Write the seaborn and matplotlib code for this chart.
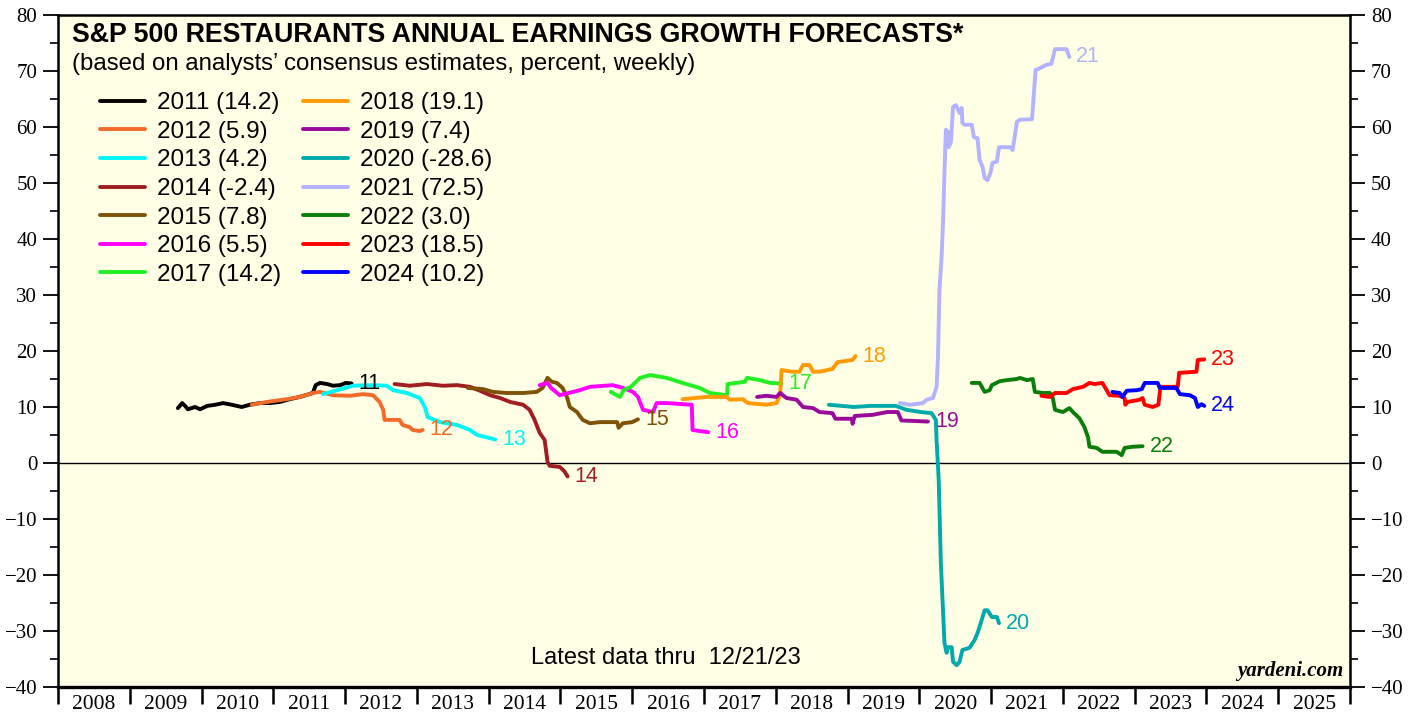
import matplotlib
matplotlib.use("Agg")
import matplotlib.pyplot as plt
from matplotlib.lines import Line2D
from matplotlib.ticker import MultipleLocator, FixedLocator, FixedFormatter
import seaborn as sns
import pandas as pd
import numpy as np

# weekly consensus forecasts, x = decimal year, y = percent
x_2011 = [2009.67, 2009.73, 2009.77, 2009.81, 2009.91, 2009.98, 2010.08, 2010.19, 2010.30, 2010.42, 2010.56, 2010.67, 2010.81,
          2010.95, 2011.09, 2011.23, 2011.37, 2011.55, 2011.59, 2011.65, 2011.75, 2011.83, 2011.93, 2012.01, 2012.09]
y_2011 = [9.8, 10.7, 10.2, 9.6, 10.0, 9.6, 10.2, 10.4, 10.7, 10.4, 10.0, 10.4, 10.7,
          10.7, 10.9, 11.4, 11.8, 12.5, 13.9, 14.3, 14.1, 13.8, 13.9, 14.3, 14.2]

x_2012 = [2010.70, 2010.91, 2011.19, 2011.37, 2011.55, 2011.65, 2011.83, 2012.07, 2012.25, 2012.39, 2012.48, 2012.53,
          2012.55, 2012.76, 2012.80, 2012.90, 2012.94, 2013.04, 2013.08]
y_2012 = [10.4, 10.9, 11.4, 11.8, 12.5, 12.7, 12.1, 12.0, 12.3, 12.1, 10.9, 9.5,
          7.7, 7.7, 6.8, 6.4, 5.9, 5.7, 5.9]

x_2013 = [2011.69, 2011.89, 2012.11, 2012.39, 2012.58, 2012.67, 2012.86, 2013.04, 2013.11, 2013.15, 2013.32, 2013.56,
          2013.74, 2013.84, 2013.97, 2014.09]
y_2013 = [12.3, 13.0, 13.8, 13.9, 13.8, 13.0, 12.5, 11.6, 10.0, 8.2, 7.3, 6.8,
          5.9, 5.0, 4.6, 4.2]

x_2014 = [2012.69, 2012.90, 2013.14, 2013.36, 2013.56, 2013.74, 2013.88, 2014.02, 2014.16, 2014.30, 2014.48, 2014.57,
          2014.64, 2014.71, 2014.78, 2014.82, 2014.85, 2014.99, 2015.05, 2015.10]
y_2014 = [14.1, 13.8, 14.1, 13.8, 13.9, 13.6, 12.9, 12.1, 11.6, 10.9, 10.4, 9.5,
          7.7, 5.4, 4.1, 0.2, -0.5, -0.7, -1.4, -2.4]

x_2015 = [2013.71, 2013.92, 2014.06, 2014.25, 2014.48, 2014.67, 2014.75, 2014.82, 2014.88, 2014.95, 2015.03, 2015.09,
          2015.13, 2015.23, 2015.31, 2015.41, 2015.55, 2015.79, 2015.81, 2015.87, 2016.00, 2016.08]
y_2015 = [13.4, 13.2, 12.7, 12.5, 12.5, 12.7, 13.4, 15.2, 14.5, 14.3, 13.4, 11.8,
          10.0, 9.1, 7.7, 7.1, 7.3, 7.3, 6.3, 7.1, 7.3, 7.8]

x_2016 = [2014.71, 2014.82, 2014.87, 2014.99, 2015.27, 2015.41, 2015.73, 2015.87, 2016.01, 2016.08, 2016.15, 2016.29,
          2016.34, 2016.48, 2016.83, 2016.84, 2016.94, 2017.06]
y_2016 = [13.9, 14.3, 13.4, 12.1, 13.0, 13.6, 13.9, 13.4, 12.7, 11.8, 9.5, 9.1,
          10.7, 10.7, 10.4, 5.9, 5.7, 5.5]

x_2017 = [2015.70, 2015.83, 2015.88, 2015.98, 2016.11, 2016.25, 2016.48, 2016.70, 2016.94, 2017.08, 2017.32, 2017.33,
          2017.57, 2017.60, 2017.78, 2017.92, 2018.08]
y_2017 = [12.7, 11.8, 13.0, 13.6, 15.2, 15.7, 15.2, 14.3, 13.4, 12.5, 12.1, 14.1,
          14.5, 15.2, 14.8, 14.3, 14.2]

x_2018 = [2016.70, 2017.04, 2017.32, 2017.36, 2017.54, 2017.61, 2017.87, 2018.01, 2018.06, 2018.08, 2018.22, 2018.33,
          2018.38, 2018.47, 2018.52, 2018.61, 2018.79, 2018.86, 2019.07, 2019.11]
y_2018 = [11.4, 11.8, 11.8, 11.3, 11.4, 10.7, 10.4, 10.7, 12.1, 16.6, 16.3, 16.3,
          17.5, 17.5, 16.3, 16.3, 16.8, 18.0, 18.4, 19.1]

x_2019 = [2017.74, 2017.87, 2018.01, 2018.06, 2018.15, 2018.29, 2018.38, 2018.52, 2018.61, 2018.79, 2018.83, 2019.06,
          2019.07, 2019.10, 2019.35, 2019.55, 2019.70, 2019.75, 2020.12]
y_2019 = [11.8, 12.0, 11.8, 12.5, 11.6, 11.3, 10.0, 9.8, 9.1, 8.9, 7.9, 7.9,
          7.0, 8.4, 8.6, 9.1, 9.1, 7.6, 7.4]

x_2020 = [2018.74, 2019.09, 2019.32, 2019.67, 2019.82, 2020.02, 2020.17, 2020.23, 2020.24, 2020.27, 2020.30, 2020.35,
          2020.38, 2020.40, 2020.45, 2020.47, 2020.52, 2020.56, 2020.60, 2020.70, 2020.77, 2020.81, 2020.87, 2020.91,
          2020.95, 2021.01, 2021.08, 2021.11]
y_2020 = [10.4, 10.0, 10.2, 10.2, 9.5, 9.1, 8.9, 7.7, 4.1, -3.0, -17.9, -32.1,
          -33.9, -32.9, -32.9, -35.5, -36.1, -35.5, -33.4, -33.0, -31.6, -30.4, -28.0, -26.3,
          -26.3, -27.5, -27.5, -28.6]

x_2021 = [2019.73, 2019.87, 2020.05, 2020.10, 2020.19, 2020.24, 2020.26, 2020.28, 2020.31, 2020.33, 2020.35, 2020.37,
          2020.40, 2020.41, 2020.44, 2020.47, 2020.51, 2020.53, 2020.56, 2020.59, 2020.60, 2020.63, 2020.73, 2020.76,
          2020.81, 2020.84, 2020.88, 2020.91, 2020.95, 2020.99, 2021.02, 2021.08, 2021.11, 2021.26, 2021.30, 2021.36,
          2021.40, 2021.57, 2021.62, 2021.68, 2021.77, 2021.84, 2021.89, 2022.05, 2022.09]
y_2021 = [10.7, 10.4, 10.7, 11.3, 11.6, 13.6, 18.9, 30.9, 36.8, 42.9, 51.8, 59.5,
          59.1, 56.4, 57.3, 63.6, 63.9, 63.4, 62.5, 63.4, 60.7, 60.4, 60.4, 58.2,
          58.0, 54.1, 52.9, 50.9, 50.5, 51.8, 53.6, 53.8, 56.4, 56.4, 55.9, 60.9,
          61.3, 61.4, 70.2, 70.5, 71.1, 71.3, 73.9, 73.9, 72.5]

x_2022 = [2020.73, 2020.84, 2020.91, 2020.98, 2021.01, 2021.12, 2021.22, 2021.36, 2021.40, 2021.50, 2021.58, 2021.61,
          2021.72, 2021.82, 2021.86, 2021.89, 2022.00, 2022.09, 2022.14, 2022.23, 2022.30, 2022.35, 2022.37, 2022.47,
          2022.55, 2022.75, 2022.82, 2022.86, 2022.97, 2023.11]
y_2022 = [14.3, 14.3, 12.7, 13.0, 13.9, 14.6, 14.8, 15.0, 15.2, 14.8, 15.0, 12.7,
          12.5, 12.5, 11.6, 9.5, 9.1, 9.8, 9.1, 8.0, 6.4, 4.6, 2.9, 2.7,
          2.0, 2.0, 1.4, 2.7, 2.9, 3.0]

x_2023 = [2021.70, 2021.82, 2021.89, 2022.05, 2022.14, 2022.28, 2022.37, 2022.44, 2022.55, 2022.61, 2022.65, 2022.79,
          2022.86, 2022.87, 2022.90, 2023.07, 2023.11, 2023.14, 2023.25, 2023.33, 2023.36, 2023.60, 2023.62, 2023.86,
          2023.88, 2023.97]
y_2023 = [12.0, 11.8, 12.5, 12.5, 13.2, 13.6, 14.3, 14.1, 14.3, 13.0, 12.1, 12.0,
          11.6, 10.4, 10.9, 11.3, 11.6, 10.4, 10.0, 10.4, 13.6, 13.6, 16.1, 16.3,
          18.4, 18.5]

x_2024 = [2022.69, 2022.79, 2022.83, 2022.89, 2023.03, 2023.10, 2023.14, 2023.32, 2023.35, 2023.58, 2023.63, 2023.77,
          2023.84, 2023.88, 2023.93, 2023.97]
y_2024 = [12.7, 12.5, 11.8, 12.9, 13.0, 13.2, 14.3, 14.3, 13.4, 13.4, 12.3, 12.1,
          11.6, 10.0, 10.5, 10.2]

series_years = ["2011", "2012", "2013", "2014", "2015", "2016", "2017",
                "2018", "2019", "2020", "2021", "2022", "2023", "2024"]
legend_labels = ["2011 (14.2)", "2012 (5.9)", "2013 (4.2)", "2014 (-2.4)", "2015 (7.8)", "2016 (5.5)", "2017 (14.2)",
                 "2018 (19.1)", "2019 (7.4)", "2020 (-28.6)", "2021 (72.5)", "2022 (3.0)", "2023 (18.5)", "2024 (10.2)"]
end_labels = ["11", "12", "13", "14", "15", "16", "17", "18", "19", "20", "21", "22", "23", "24"]
colors = ["#000000", "#F26B2A", "#00F5F5", "#A01E22", "#7F5208", "#FF00FF", "#22F022",
          "#FF9A00", "#9A0A9A", "#00AAAA", "#B3B3FF", "#0A7D0A", "#FF0000", "#0000FF"]
year_labels = [str(y) for y in range(2008, 2026)]

xs = [x_2011, x_2012, x_2013, x_2014, x_2015, x_2016, x_2017, x_2018, x_2019, x_2020, x_2021, x_2022, x_2023, x_2024]
ys = [y_2011, y_2012, y_2013, y_2014, y_2015, y_2016, y_2017, y_2018, y_2019, y_2020, y_2021, y_2022, y_2023, y_2024]

frames = []
for yr, xv, yv in zip(series_years, xs, ys):
    frames.append(pd.DataFrame({"date": xv, "value": yv, "series": yr}))
df = pd.concat(frames, ignore_index=True)

sns.set_theme(style="ticks")
plt.rcParams["font.family"] = ["Liberation Sans", "DejaVu Sans"]
plt.rcParams.update({"text.color": "black", "xtick.color": "black", "ytick.color": "black",
                     "xtick.labelcolor": "black", "ytick.labelcolor": "black"})

fig = plt.figure(figsize=(14.21, 7.19), dpi=100)
ax = fig.add_axes([58 / 1421, 1 - 687 / 719, 1292 / 1421, 672 / 719])
ax.set_facecolor("#FFFFE5")

ax.axhline(0, color="black", lw=1.0, zorder=1)

sns.lineplot(data=df, x="date", y="value", hue="series", hue_order=series_years,
             palette=dict(zip(series_years, colors)), estimator=None, sort=False,
             linewidth=2.8, legend=False, ax=ax, zorder=3)

# year labels at line ends
for lbl, xv, yv, c in zip(end_labels, xs, ys, colors):
    ax.annotate(lbl, (xv[-1], yv[-1]), xytext=(5, 0), textcoords="offset points",
                color=c, fontsize=15.5, va="center", ha="left")

ax.set_xlim(2008, 2026)
ax.set_ylim(-40, 80)
ax.set_xlabel("")
ax.set_ylabel("")

# x axis: ticks at year boundaries, labels centred in between
ax.xaxis.set_major_locator(FixedLocator(np.arange(2008, 2027)))
ax.xaxis.set_minor_locator(FixedLocator(np.arange(2008.5, 2026, 1)))
ax.xaxis.set_minor_formatter(FixedFormatter(year_labels))
ax.tick_params(axis="x", which="major", length=12, width=1.8, direction="out", labelbottom=False, color="black")
ax.tick_params(axis="x", which="minor", length=0, labelsize=15.5, pad=6, labelfontfamily="Liberation Serif")

ax.yaxis.set_major_locator(MultipleLocator(10))
ax.yaxis.set_minor_locator(MultipleLocator(5))
ax.tick_params(axis="y", which="both", left=True, right=True, labelleft=True, labelright=True,
               direction="out", color="black")
ax.tick_params(axis="y", which="major", length=11, width=1.3, labelsize=15, pad=4,
               labelfontfamily="Liberation Serif")
ax.tick_params(axis="y", which="minor", length=6, width=1.2)

for s in ax.spines.values():
    s.set_visible(True)
    s.set_color("black")
    s.set_linewidth(1.8)
ax.spines["bottom"].set_linewidth(2.4)

ax.text(0.0108, 0.970, "S&P 500 RESTAURANTS ANNUAL EARNINGS GROWTH FORECASTS*", transform=ax.transAxes,
        fontsize=19.3, fontweight="bold", ha="left", va="center", color="black")
ax.text(0.0108, 0.927, "(based on analysts\u2019 consensus estimates, percent, weekly)", transform=ax.transAxes,
        fontsize=17.3, ha="left", va="center", color="black")

handles = [Line2D([], [], color=c, lw=2.8) for c in colors]
ax.legend(handles, legend_labels, ncol=2, loc="upper left", bbox_to_anchor=(0.0325, 0.885),
          frameon=False, fontsize=17.5, handlelength=1.85, handletextpad=0.5, columnspacing=0.9,
          labelspacing=0.27, borderpad=0, borderaxespad=0, labelcolor="black")

ax.text(0.4706, 0.0432, "Latest data thru  12/21/23", transform=ax.transAxes,
        fontsize=17, ha="center", va="center", color="black")
ax.text(0.9946, 0.0238, "yardeni.com", transform=ax.transAxes, fontsize=15,
        fontfamily="Liberation Serif", fontweight="bold", fontstyle="italic", ha="right", va="center",
        color="black")

fig.savefig("out.png", dpi=100)
